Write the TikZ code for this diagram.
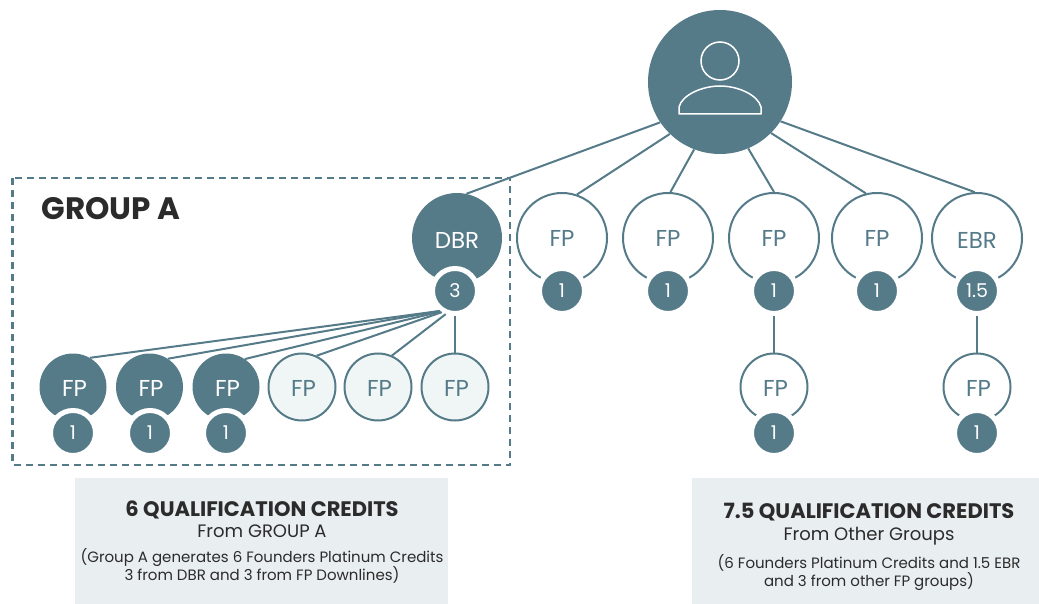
\documentclass[tikz,border=0pt]{standalone}
\usepackage{fontspec}
\setmainfont{Poppins}
\usetikzlibrary{shapes.geometric}
\definecolor{tealdk}{HTML}{557B89}
\definecolor{tealpale}{HTML}{F0F6F6}
\definecolor{boxgrey}{HTML}{E9EEF0}
\definecolor{inkdk}{HTML}{2B2B2B}
\tikzset{
  link/.style={draw=tealdk,line width=2pt},
  biglabel/.style={font=\fontsize{23}{23}\selectfont,text depth=0pt},
  lowlabel/.style={text height=20pt},
  smalllabel/.style={font=\fontsize{23}{23}\selectfont,text height=19pt,text depth=0pt,execute at begin node={\hspace*{3pt}}},
  bigfull/.style={circle,fill=tealdk,text=white,minimum size=90pt,inner sep=0pt,biglabel},
  bigopen/.style={circle,draw=tealdk,line width=2pt,fill=white,text=tealdk,minimum size=90pt,inner sep=0pt,biglabel},
  smallfull/.style={circle,fill=tealdk,text=white,minimum size=67pt,inner sep=0pt,smalllabel},
  smallpale/.style={circle,draw=tealdk,line width=2pt,fill=tealpale,text=tealdk,minimum size=67pt,inner sep=0pt,smalllabel},
  smallopen/.style={smallpale,fill=white},
  credit/.style={circle,fill=tealdk,draw=white,line width=5pt,text=white,minimum size=45pt,inner sep=0pt,font=\fontsize{19}{19}\selectfont},
  panel/.style={fill=boxgrey},
  headline/.style={anchor=base,text=inkdk,font=\fontsize{21}{21}\bfseries\selectfont},
  subline/.style={anchor=base,text=inkdk,font=\fontsize{18}{18}\selectfont},
  noteline/.style={anchor=base,text=inkdk,font=\fontsize{15}{15}\selectfont}
}
\begin{document}
\begin{tikzpicture}[x=1pt,y=-1pt]
    \useasboundingbox (0,0) rectangle (1039,604);

    \fill[panel] (75,478) rectangle (448,604);
    \fill[panel] (692,478) rectangle (1039,604);
    \draw[tealdk,line width=2.2pt,dash pattern=on 7pt off 5pt] (12.5,178) rectangle (510,465);

    \node[circle,fill=tealdk,minimum size=144pt,inner sep=0pt] (root) at (720,82) {};
    \draw[white,line width=1.5pt] (720,61) circle [radius=19];
    \draw[white,line width=1.5pt,line join=round] (679,114) -- (679,107) .. controls (682,95) and (702,86) .. (720,86)
        .. controls (738,86) and (758,95) .. (761,107) -- (761,114) -- cycle;

    \node[bigfull,lowlabel] (dbr) at (457,238) {DBR};
    \node[bigopen] (fpb) at (562,238) {FP};
    \node[bigopen] (fpc) at (668,238) {FP};
    \node[bigopen] (fpd) at (774,238) {FP};
    \node[bigopen] (fpe) at (877,238) {FP};
    \node[bigopen,lowlabel] (ebr) at (977,238) {EBR};

    \node[credit] (dbrnum) at (455,291) {3};
    \node[credit] (fpbnum) at (562,291) {1};
    \node[credit] (fpcnum) at (668,291) {1};
    \node[credit] (fpdnum) at (774,291) {1};
    \node[credit] (fpenum) at (877,291) {1};
    \node[credit] (ebrnum) at (977,291) {1.5};

    \node[smallfull] (dla) at (73,387) {FP};
    \node[smallfull] (dlb) at (149.5,387) {FP};
    \node[smallfull] (dlc) at (226,387) {FP};
    \node[smallpale] (dld) at (302,387) {FP};
    \node[smallpale] (dle) at (378,387) {FP};
    \node[smallpale] (dlf) at (455,387) {FP};
    \node[smallopen] (dlg) at (774,387) {FP};
    \node[smallopen] (dlh) at (977,387) {FP};

    \node[credit] (dlanum) at (73,433) {1};
    \node[credit] (dlbnum) at (150,433) {1};
    \node[credit] (dlcnum) at (226,433) {1};
    \node[credit] (dlgnum) at (774,433) {1};
    \node[credit] (dlhnum) at (977,433) {1};

    \path[link]
    (root.214) edge (dbr.78)
    (root.226) edge (fpb.71)
    (root.249) edge (fpc.87)
    (root.293) edge (fpd.90)
    (root.315) edge (fpe.104)
    (root.327) edge (ebr.93)
    (dbrnum.233) edge (dla.60)
    (dbrnum.233) edge (dlb.57)
    (dbrnum.235) edge (dlc.56)
    (dbrnum.238) edge (dld.65)
    (dbrnum.248) edge (dle.66)
    (dbrnum.270) edge (dlf.90)
    (fpdnum.270) edge (dlg.90)
    (ebrnum.270) edge (dlh.90);

    \node[anchor=base west,text=inkdk,font=\fontsize{31}{31}\bfseries\selectfont] (groupa) at (38,220) {GROUP A};

    \node[headline] (lefta) at (262,516) {6 QUALIFICATION CREDITS};
    \node[subline] (leftb) at (262,537) {From GROUP A};
    \node[noteline] (leftc) at (262,562) {(Group A generates 6 Founders Platinum Credits};
    \node[noteline] (leftd) at (262,580) {3 from DBR and 3 from FP Downlines)};

    \node[headline] (righta) at (869,518) {7.5 QUALIFICATION CREDITS};
    \node[subline] (rightb) at (869,540) {From Other Groups};
    \node[noteline] (rightc) at (869,568) {(6 Founders Platinum Credits and 1.5 EBR};
    \node[noteline] (rightd) at (869,586) {and 3 from other FP groups)};
\end{tikzpicture}
\end{document}
